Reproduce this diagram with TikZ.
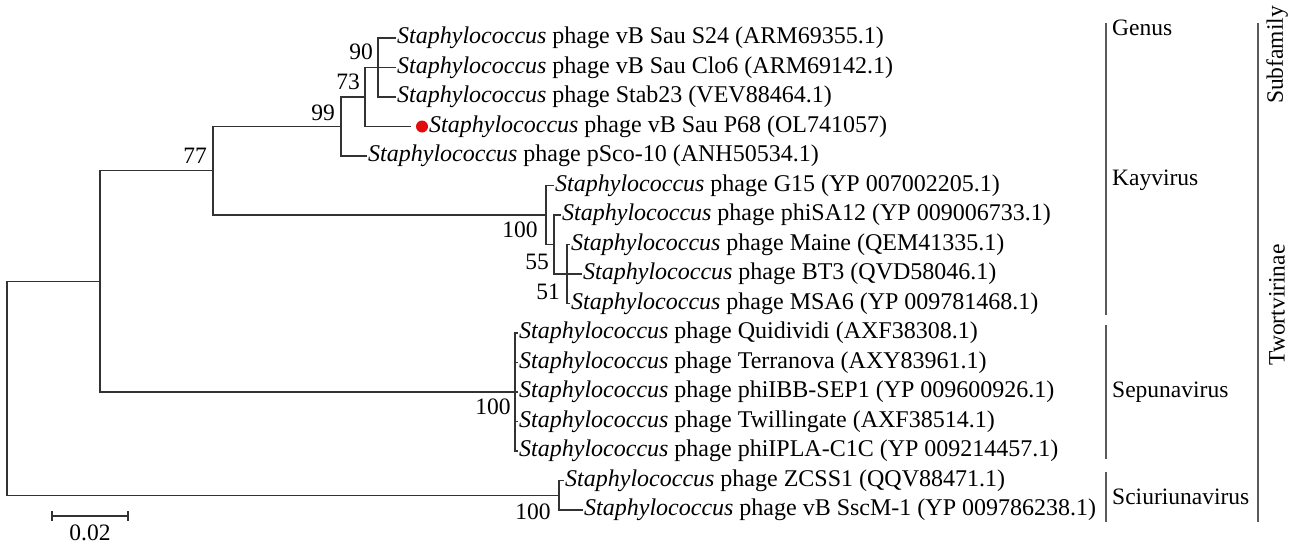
\documentclass[tikz,border=0pt]{standalone}
\usepackage{fontspec}
\setmainfont{Liberation Serif}
\definecolor{dotred}{RGB}{225,12,12}
\definecolor{treeline}{RGB}{50,50,50}
\definecolor{grpline}{RGB}{90,90,90}
\begin{document}
\begin{tikzpicture}[x=1pt,y=-1pt,
  br/.style={line width=1.4pt, draw=treeline, line cap=rect},
  lf/.style={anchor=west, inner xsep=2pt, inner ysep=0pt, text height=17pt, text depth=6pt, font=\fontsize{24}{28}\selectfont},
  bs/.style={inner sep=0pt, font=\fontsize{23.5}{28}\selectfont},
  grp/.style={line width=1.8pt, draw=grpline},
  gl/.style={anchor=west, inner sep=0pt, font=\fontsize{23.5}{28}\selectfont}]
\useasboundingbox (0,0) rectangle (1300,546);
\newcommand{\St}{\textit{Staphylococcus} phage }
% leaves
\node[lf] (l1) at (395,38) {\St vB Sau S24 (ARM69355.1)};
\node[lf] (l2) at (395,67.5) {\St vB Sau Clo6 (ARM69142.1)};
\node[lf] (l3) at (395,97) {\St Stab23 (VEV88464.1)};
\coordinate (p68end) at (410,126.5);
\node[circle, fill=dotred, inner sep=0pt, minimum size=12pt] (dot) at (422,126.5) {};
\node[lf] (l4) at (427,126.5) {\St vB Sau P68 (OL741057)};
\node[lf] (l5) at (366,156) {\St pSco-10 (ANH50534.1)};
\node[lf] (l6) at (553,185.5) {\St G15 (YP 007002205.1)};
\node[lf] (l7) at (560,215) {\St phiSA12 (YP 009006733.1)};
\node[lf] (l8) at (569,244.5) {\St Maine (QEM41335.1)};
\node[lf] (l9) at (581,274) {\St BT3 (QVD58046.1)};
\node[lf] (l10) at (569,303.5) {\St MSA6 (YP 009781468.1)};
\node[lf] (l11) at (517,333) {\St Quidividi (AXF38308.1)};
\node[lf] (l12) at (517,362.5) {\St Terranova (AXY83961.1)};
\node[lf] (l13) at (517,392) {\St phiIBB-SEP1 (YP 009600926.1)};
\node[lf] (l14) at (517,421.5) {\St Twillingate (AXF38514.1)};
\node[lf] (l15) at (517,451) {\St phiIPLA-C1C (YP 009214457.1)};
\node[lf] (l16) at (563,480.5) {\St ZCSS1 (QQV88471.1)};
\node[lf] (l17) at (582,510) {\St vB SscM-1 (YP 009786238.1)};
% internal nodes
\coordinate (n90) at (378,67.5);
\coordinate (n73) at (365,97);
\coordinate (n99) at (341,126.5);
\coordinate (n77) at (213,170.75);
\coordinate (n51) at (567,274);
\coordinate (n55) at (554,244.5);
\coordinate (nK) at (546,215);
\coordinate (nS) at (515,392);
\coordinate (nX) at (100,281.4);
\coordinate (nC) at (559,495.25);
\coordinate (root) at (7,388.3);
% branches
\draw[br] (n90) |- (l1.west);
\draw[br] (n90) |- (l2.west);
\draw[br] (n90) |- (l3.west);
\draw[br] (n73) |- (n90);
\draw[br] (n73) |- (p68end);
\draw[br] (n99) |- (n73);
\draw[br] (n99) |- (l5.west);
\draw[br] (n77) |- (n99);
\draw[br] (n77) |- (nK);
\draw[br] (nK) |- (l6.west);
\draw[br] (nK) |- (n55);
\draw[br] (n55) |- (l7.west);
\draw[br] (n55) |- (n51);
\draw[br] (n51) |- (l8.west);
\draw[br] (n51) |- (l9.west);
\draw[br] (n51) |- (l10.west);
\draw[br] (nX) |- (n77);
\draw[br] (nX) |- (nS);
\draw[br] (nS) |- (l11.west);
\draw[br] (nS) |- (l12.west);
\draw[br] (nS) |- (l13.west);
\draw[br] (nS) |- (l14.west);
\draw[br] (nS) |- (l15.west);
\draw[br] (root) |- (nX);
\draw[br] (root) |- (nC);
\draw[br] (nC) |- (l16.west);
\draw[br] (nC) |- (l17.west);
% bootstrap values
\node[bs] (b90) at (361,52) {90};
\node[bs] (b73) at (348,82) {73};
\node[bs] (b99) at (323,113) {99};
\node[bs] (b77) at (195,156) {77};
\node[bs] (bK) at (520,230) {100};
\node[bs] (b55) at (537,262) {55};
\node[bs] (b51) at (548,292) {51};
\node[bs] (bS) at (493,407) {100};
\node[bs] (bC) at (533,512) {100};
% scale bar
\coordinate (sb1) at (52,516);
\coordinate (sb2) at (128,516);
\draw[br] (sb1) -- (sb2);
\draw[br] ([yshift=-4pt]sb1) -- ([yshift=4pt]sb1);
\draw[br] ([yshift=-4pt]sb2) -- ([yshift=4pt]sb2);
\node[bs] (sbl) at (90,532.5) {0.02};
% groups
\coordinate (ka) at (1106,23); \coordinate (kb) at (1106,315);
\coordinate (sa) at (1106,325); \coordinate (sb) at (1106,459);
\coordinate (ca) at (1106,472); \coordinate (cb) at (1106,522);
\coordinate (ta) at (1258,23); \coordinate (tb) at (1258,522);
\draw[grp] (ka) -- (kb);
\draw[grp] (sa) -- (sb);
\draw[grp] (ca) -- (cb);
\draw[grp] (ta) -- (tb);
\node[gl] (genus) at (1112,28) {Genus};
\node[gl] (kay) at (1112,180) {Kayvirus};
\node[gl] (sep) at (1112,392) {Sepunavirus};
\node[gl] (sci) at (1112,497) {Sciuriunavirus};
\node[gl, anchor=center, rotate=90] (subf) at (1277,55) {Subfamily};
\node[gl, anchor=center, rotate=90] (twor) at (1277,305) {Twortvirinae};
\end{tikzpicture}
\end{document}
